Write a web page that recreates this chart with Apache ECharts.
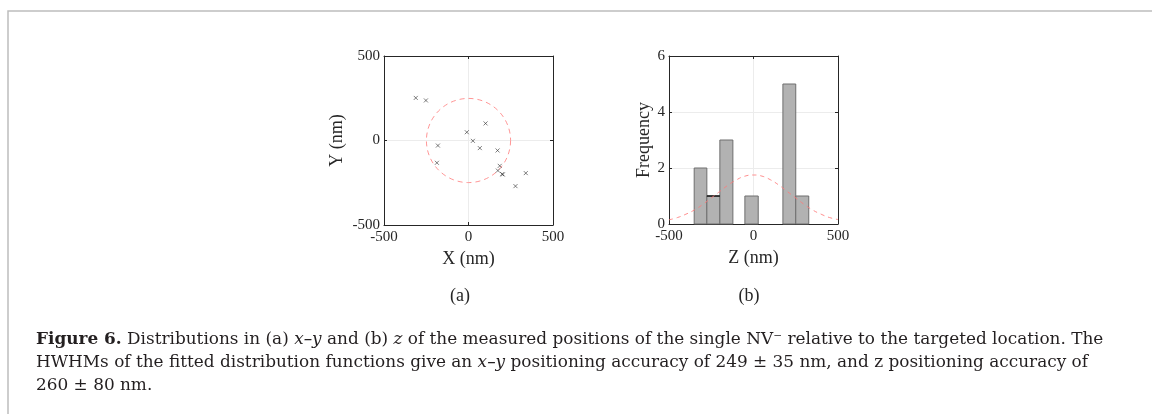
<!DOCTYPE html>
<html><head><meta charset="utf-8">
<script src="https://cdn.jsdelivr.net/npm/echarts@6/dist/echarts.min.js"></script>
<style>html,body{margin:0;padding:0;background:#fff}#c{width:1152px;height:414px}</style>
</head><body><div id="c"></div>
<script>
// (a) measured x-y positions (nm)
const xyPoints = [
  [-312, 252], [-252, 237], [-181, -30], [-187, -132], [-10, 49], [26, -2],
  [67, -45], [101, 101], [172, -59], [185, -150], [174, -178], [199, -199],
  [203, -201], [278, -270], [339, -193]
];
// fitted circle: [centerX, centerY, radius]
const fitCircle = [[0, 0, 249]];
// (b) histogram bins: [binStart, binEnd, count]
const zBins = [
  [-351, -276, 2], [-276, -199, 1], [-199, -122, 3],
  [-51, 28, 1], [174, 250, 5], [250, 327, 1]
];
const blackEdge = [[-276, -199, 1]];
// fitted distribution
const fitZ = [-500,-450,-400,-350,-300,-250,-200,-150,-100,-50,0,50,100,150,200,250,300,350,400,450,500];
const fitF = [0.15,0.23,0.35,0.5,0.7,0.93,1.16,1.39,1.58,1.71,1.75,1.71,1.58,1.39,1.16,0.93,0.7,0.5,0.35,0.23,0.16];
const xTicks = [-500, 0, 500];
const fTicks = [0, 2, 4, 6];

const FONT = 'Liberation Serif';
const CAP = 'DejaVu Serif';
const CAPSIZE = 16.9;
const chart = echarts.init(document.getElementById('c'), null, {renderer: 'canvas'});

function baseAxis(extra) {
  return Object.assign({
    type: 'value',
    axisLine: {show: true, onZero: false, lineStyle: {color: '#262626', width: 1}},
    axisTick: {show: true, inside: true, length: 3, lineStyle: {color: '#262626'}},
    axisLabel: {fontFamily: FONT, fontSize: 15, color: '#262626'},
    splitLine: {show: true, lineStyle: {color: '#ececec', width: 1}},
    nameTextStyle: {fontFamily: FONT, fontSize: 18, color: '#262626'}
  }, extra);
}
function mirrorAxis(extra) {
  return Object.assign({
    type: 'value',
    axisLine: {show: true, onZero: false, lineStyle: {color: '#262626', width: 1}},
    axisTick: {show: true, inside: true, length: 3, lineStyle: {color: '#262626'}},
    axisLabel: {show: false},
    splitLine: {show: false}
  }, extra);
}
function lbl(margin) {
  return {fontFamily: FONT, fontSize: 15, color: '#262626', margin: margin};
}

const gaussData = fitZ.map((z, i) => [z, fitF[i]]);

chart.setOption({
  animation: false,
  grid: [
    {left: 384, top: 56, width: 169, height: 169},
    {left: 669, top: 56, width: 169, height: 168}
  ],
  xAxis: [
    baseAxis({gridIndex: 0, min: -500, max: 500, interval: 500, name: 'X (nm)', nameLocation: 'middle', nameGap: 25, axisLabel: lbl(5)}),
    mirrorAxis({gridIndex: 0, position: 'top', min: -500, max: 500, interval: 500}),
    baseAxis({gridIndex: 1, min: -500, max: 500, interval: 500, name: 'Z (nm)', nameLocation: 'middle', nameGap: 25, axisLabel: lbl(5)}),
    mirrorAxis({gridIndex: 1, position: 'top', min: -500, max: 500, interval: 500})
  ],
  yAxis: [
    baseAxis({gridIndex: 0, min: -500, max: 500, interval: 500, name: 'Y (nm)', nameLocation: 'middle', nameGap: 38, axisLabel: lbl(4)}),
    mirrorAxis({gridIndex: 0, position: 'right', min: -500, max: 500, interval: 500}),
    baseAxis({gridIndex: 1, min: 0, max: 6, interval: 2, name: 'Frequency', nameLocation: 'middle', nameGap: 16, axisLabel: lbl(4)}),
    mirrorAxis({gridIndex: 1, position: 'right', min: 0, max: 6, interval: 2})
  ],
  series: [
    {
      type: 'custom', xAxisIndex: 0, yAxisIndex: 0, data: fitCircle, silent: true,
      renderItem: function (params, api) {
        const c = api.coord([api.value(0), api.value(1)]);
        const r = api.size([api.value(2), 0])[0];
        return {type: 'circle', shape: {cx: c[0], cy: c[1], r: r},
          style: {fill: 'none', stroke: '#ff7a7a', lineWidth: 1, lineDash: [5, 4], opacity: 0.8}};
      }
    },
    {
      type: 'scatter', xAxisIndex: 0, yAxisIndex: 0, data: xyPoints,
      symbol: 'path://M0,0L10,10M10,0L0,10', symbolSize: 4,
      itemStyle: {color: 'none', borderColor: '#333', borderWidth: 0.8}
    },
    {
      type: 'custom', xAxisIndex: 2, yAxisIndex: 2, data: zBins,
      renderItem: function (params, api) {
        const p0 = api.coord([api.value(0), api.value(2)]);
        const p1 = api.coord([api.value(1), 0]);
        return {type: 'rect', shape: {x: p0[0], y: p0[1], width: p1[0] - p0[0], height: p1[1] - p0[1]},
          style: {fill: '#b2b2b2', stroke: '#6e6e6e', lineWidth: 1}};
      }
    },
    {
      type: 'custom', xAxisIndex: 2, yAxisIndex: 2, data: blackEdge,
      renderItem: function (params, api) {
        const p0 = api.coord([api.value(0), api.value(2)]);
        const p1 = api.coord([api.value(1), api.value(2)]);
        return {type: 'line', shape: {x1: p0[0], y1: p0[1], x2: p1[0], y2: p1[1]},
          style: {stroke: '#000', lineWidth: 1.3}};
      }
    },
    {
      type: 'line', xAxisIndex: 2, yAxisIndex: 2, data: gaussData, smooth: true, symbol: 'none',
      lineStyle: {color: '#ff7a7a', width: 1, type: [4, 4], opacity: 0.85}, z: 5
    }
  ],
  graphic: [
    {type: 'rect', shape: {x: 8, y: 11, width: 1160, height: 420}, style: {fill: 'none', stroke: '#bdbdbd', lineWidth: 1.5}, silent: true},
    {type: 'text', x: 460, y: 296, style: {text: '(a)', font: '18px "Liberation Serif"', fill: '#262626', align: 'center', verticalAlign: 'middle'}},
    {type: 'text', x: 749, y: 296, style: {text: '(b)', font: '18px "Liberation Serif"', fill: '#262626', align: 'center', verticalAlign: 'middle'}},
    {type: 'text', x: 36, y: 328, style: {
      text: '{b|Figure 6.} Distributions in (a) {i|x–y} and (b) {i|z} of the measured positions of the single NV⁻ relative to the targeted location. The\nHWHMs of the fitted distribution functions give an {i|x–y} positioning accuracy of 249 ± 35 nm, and z positioning accuracy of\n260 ± 80 nm.',
      font: CAPSIZE + 'px "DejaVu Serif"', fill: '#231f20', lineHeight: 23, verticalAlign: 'top',
      rich: {b: {fontWeight: 'bold', fontFamily: CAP, fontSize: CAPSIZE, lineHeight: 23, fill: '#231f20'}, i: {fontStyle: 'italic', fontFamily: CAP, fontSize: CAPSIZE, lineHeight: 23, fill: '#231f20'}}
    }}
  ]
});
</script>
</body></html>
